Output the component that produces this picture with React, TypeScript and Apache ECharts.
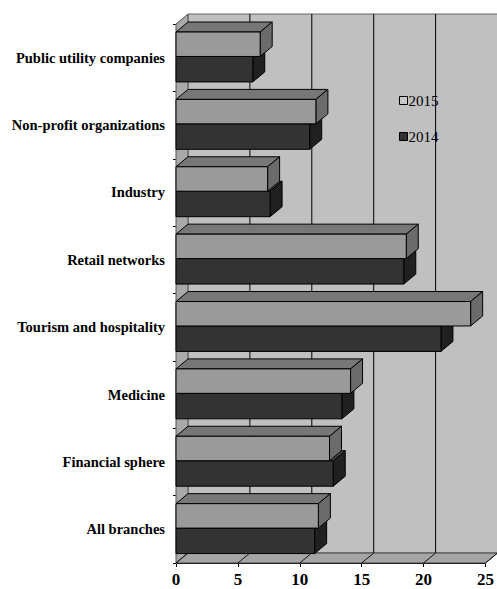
import React, { useEffect, useRef } from "react";
import * as echarts from "echarts";

const categories = [
  "Public utility companies",
  "Non-profit organizations",
  "Industry",
  "Retail networks",
  "Tourism and hospitality",
  "Medicine",
  "Financial sphere",
  "All branches",
];
const values2015 = [6.8, 11.3, 7.4, 18.6, 23.8, 14.1, 12.4, 11.5];
const values2014 = [6.2, 10.8, 7.6, 18.4, 21.4, 13.4, 12.7, 11.2];
const xTicks = [0, 5, 10, 15, 20, 25];

const DX = 12;
const DY = -10;

function barRenderer(topFrac: number, botFrac: number, colors: { front: string; top: string; side: string }) {
  return (params: any, api: any) => {
    const v = api.value(0);
    const cat = api.value(1);
    const p0 = api.coord([0, cat]);
    const p1 = api.coord([v, cat]);
    const band = api.size([0, 1])[1];
    const c = p0[1];
    const top = c + topFrac * band;
    const bot = c + botFrac * band;
    const xL = p0[0];
    const xR = p1[0];
    const line = { stroke: "#000", lineWidth: 1 };
    return {
      type: "group",
      children: [
        {
          type: "polygon",
          shape: { points: [[xL, top], [xR, top], [xR + DX, top + DY], [xL + DX, top + DY]] },
          style: { fill: colors.top, ...line },
        },
        {
          type: "polygon",
          shape: { points: [[xR, top], [xR + DX, top + DY], [xR + DX, bot + DY], [xR, bot]] },
          style: { fill: colors.side, ...line },
        },
        {
          type: "rect",
          shape: { x: xL, y: top, width: xR - xL, height: bot - top },
          style: { fill: colors.front, ...line },
        },
      ],
    };
  };
}

function wallsRenderer(params: any, api: any) {
  const cs = params.coordSys;
  const x0 = cs.x;
  const y0 = cs.y;
  const x1 = cs.x + cs.width;
  const y1 = cs.y + cs.height;
  const children: any[] = [];
  children.push({
    type: "polygon",
    shape: { points: [[x0 + DX, y0 + DY], [x1 + DX, y0 + DY], [x1 + DX, y1 + DY], [x0 + DX, y1 + DY]] },
    style: { fill: "#c0c0c0", stroke: "#666", lineWidth: 1 },
  });
  children.push({
    type: "polygon",
    shape: { points: [[x0, y0], [x0 + DX, y0 + DY], [x0 + DX, y1 + DY], [x0, y1]] },
    style: { fill: "#a9a9a9", stroke: "#555", lineWidth: 1 },
  });
  children.push({
    type: "polygon",
    shape: { points: [[x0, y1], [x0 + DX, y1 + DY], [x1 + DX, y1 + DY], [x1, y1]] },
    style: { fill: "#a5a5a5", stroke: "#444", lineWidth: 1 },
  });
  xTicks.forEach((t) => {
    const px = api.coord([t, 0])[0];
    if (t > 0 && t < xTicks[xTicks.length - 1]) {
      children.push({
        type: "line",
        shape: { x1: px + DX, y1: y0 + DY, x2: px + DX, y2: y1 + DY },
        style: { stroke: "#000", lineWidth: 1 },
      });
    }
    children.push({
      type: "line",
      shape: { x1: px, y1: y1, x2: px + DX, y2: y1 + DY },
      style: { stroke: "#111", lineWidth: 1 },
    });
  });
  return { type: "group", children };
}

export default function App() {
  const ref = useRef<HTMLDivElement>(null);
  useEffect(() => {
    if (!ref.current) return;
    const chart = echarts.init(ref.current, undefined, { renderer: "svg" });
    const font = "Liberation Serif";
    chart.setOption({
      animation: false,
      backgroundColor: "#ffffff",
      grid: { left: 176, right: 11, top: 24, bottom: 26, containLabel: false },
      legend: {
        orient: "vertical",
        left: 394,
        top: 88,
        itemWidth: 8,
        itemHeight: 8,
        itemGap: 21,
        icon: "rect",
        textStyle: { fontFamily: font, fontSize: 15, color: "#000", padding: [0, 0, 0, -4] },
        data: [
          { name: "2015", itemStyle: { color: "#c8c8c8", borderColor: "#000", borderWidth: 1 } },
          { name: "2014", itemStyle: { color: "#333333", borderColor: "#000", borderWidth: 1 } },
        ],
      },
      xAxis: {
        type: "value",
        min: 0,
        max: 25,
        interval: 5,
        axisLine: { show: true, lineStyle: { color: "#000", width: 1 } },
        axisTick: { show: true, length: 4, lineStyle: { color: "#000" } },
        splitLine: { show: false },
        axisLabel: { fontFamily: font, fontSize: 17, fontWeight: "bold", color: "#000", margin: 8 },
      },
      yAxis: {
        type: "category",
        inverse: true,
        data: categories,
        axisLine: { show: true, lineStyle: { color: "#000", width: 1 } },
        axisTick: { show: true, length: 3, lineStyle: { color: "#000" } },
        axisLabel: { fontFamily: font, fontSize: 14.5, fontWeight: "bold", color: "#000", margin: 11 },
        splitLine: { show: false },
      },
      series: [
        {
          name: "walls",
          type: "custom",
          z: 1,
          clip: false,
          silent: true,
          renderItem: wallsRenderer,
          data: [[0, 0]],
          encode: { x: 0, y: 1 },
        },
        {
          name: "2014",
          type: "custom",
          z: 2,
          clip: false,
          itemStyle: { color: "#333333" },
          renderItem: barRenderer(-0.018, 0.36, { front: "#333333", top: "#4a4a4a", side: "#202020" }),
          data: values2014.map((v, i) => [v, i]),
          encode: { x: 0, y: 1 },
        },
        {
          name: "2015",
          type: "custom",
          z: 3,
          clip: false,
          itemStyle: { color: "#9a9a9a" },
          renderItem: barRenderer(-0.381, -0.018, { front: "#9a9a9a", top: "#777777", side: "#6b6b6b" }),
          data: values2015.map((v, i) => [v, i]),
          encode: { x: 0, y: 1 },
        },
      ],
    });
    return () => chart.dispose();
  }, []);
  return <div ref={ref} style={{ position: "fixed", left: 0, top: 0, width: 497, height: 589 }} />;
}
